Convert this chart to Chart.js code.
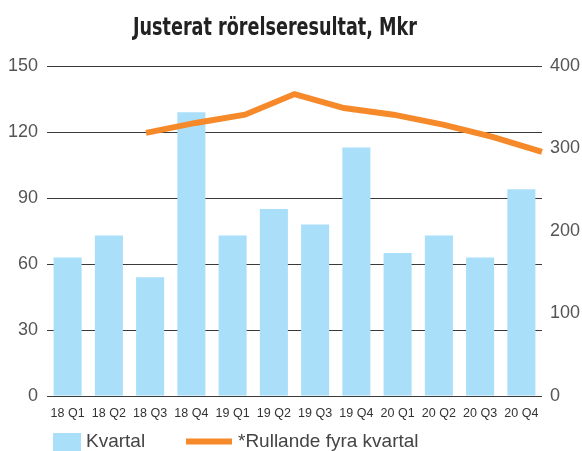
<!DOCTYPE html>
<html>
<head>
<meta charset="utf-8">
<script src="https://cdn.jsdelivr.net/npm/chart.js@4.4.1/dist/chart.umd.min.js"></script>
<style>
  html, body { margin: 0; padding: 0; background: #fff; }
  #wrap { width: 582px; height: 451px; }
</style>
</head>
<body>
<div id="wrap"><canvas id="myChart" width="582" height="451"></canvas></div>
<script>
// data
const quarters = ['18 Q1', '18 Q2', '18 Q3', '18 Q4', '19 Q1', '19 Q2', '19 Q3', '19 Q4', '20 Q1', '20 Q2', '20 Q3', '20 Q4'];
const kvartal = [63, 73, 54, 129, 73, 85, 78, 113, 65, 73, 63, 94];
// rolling line sits on its own evenly spaced grid (11 steps across the plot)
const rullandeSteg = ['0', '1', '2', '3', '4', '5', '6', '7', '8', '9', '10'];
const rullande = [null, null, 319, 331, 341, 366, 349, 341, 329, 314, 296];
const leftTicks = [0, 30, 60, 90, 120, 150];
const rightTicks = [0, 100, 200, 300, 400];

const blue = '#aadff9';
const orange = '#f68a2b';

// title + legend drawn by hand so they land where the original has them
const decor = {
  id: 'decor',
  afterDraw(chart) {
    const c = chart.ctx;
    const title = 'Justerat rörelseresultat, Mkr';
    c.save();
    c.fillStyle = '#222';
    c.font = 'bold 24px "DejaVu Sans Condensed", "DejaVu Sans"';
    c.textAlign = 'center';
    c.textBaseline = 'alphabetic';
    // original font is narrower, squeeze to its width (~284px)
    let w = c.measureText(title).width;
    c.translate(275, 35);
    c.scale(284 / w, 1);
    c.fillText(title, 0, 0);
    c.restore();

    // legend
    c.save();
    c.font = '19px "Liberation Sans", Arial';
    c.textAlign = 'left';
    c.textBaseline = 'middle';
    c.fillStyle = blue;
    c.fillRect(53, 433, 28, 18);
    c.fillStyle = '#444';
    c.fillText(chart.data.datasets[0].label, 86, 442);

    c.strokeStyle = orange;
    c.lineWidth = 6;
    c.beginPath();
    c.moveTo(186, 441.5);
    c.lineTo(232, 441.5);
    c.stroke();
    c.fillStyle = '#444';
    c.fillText(chart.data.datasets[1].label, 238, 442);
    c.restore();
  }
};

let ctx = document.getElementById('myChart').getContext('2d');
let myChart = new Chart(ctx, {
  type: 'bar',
  data: {
    labels: quarters,
    datasets: [{
      label: 'Kvartal',
      data: kvartal,
      backgroundColor: blue,
      barPercentage: 0.68,
      categoryPercentage: 1,
      grouped: false,
      yAxisID: 'y',
      xAxisID: 'x',
      order: 2
    }, {
      type: 'line',
      label: '*Rullande fyra kvartal',
      data: rullande,
      borderColor: orange,
      backgroundColor: orange,
      borderWidth: 6,
      pointRadius: 0,
      tension: 0,
      spanGaps: false,
      yAxisID: 'y1',
      xAxisID: 'xl',
      order: 1
    }]
  },
  options: {
    responsive: false,
    animation: false,
    layout: { padding: { top: 66, left: 0, right: 0, bottom: 0 } },
    plugins: {
      legend: { display: false },
      title: { display: false },
      tooltip: { enabled: false }
    },
    scales: {
      x: {
        type: 'category',
        grid: { display: false, drawTicks: false },
        border: { display: false },
        ticks: {
          color: '#333',
          font: { family: '"Liberation Sans", Arial', size: 12.5 },
          padding: 10,
          maxRotation: 0,
          autoSkip: false
        },
        afterFit(scale) { scale.height = 55; }
      },
      xl: {
        type: 'category',
        labels: rullandeSteg,
        offset: false,
        display: false
      },
      y: {
        position: 'left',
        min: 0,
        max: 150,
        afterBuildTicks(scale) { scale.ticks = leftTicks.map(v => ({ value: v })); },
        grid: { color: '#3a3a3a', lineWidth: 1, drawTicks: false },
        border: { display: false },
        ticks: {
          color: '#555',
          font: { family: '"Liberation Sans", Arial', size: 18 },
          padding: 9
        },
        afterFit(scale) { scale.width = 47; }
      },
      y1: {
        position: 'right',
        min: 0,
        max: 400,
        afterBuildTicks(scale) { scale.ticks = rightTicks.map(v => ({ value: v })); },
        grid: { drawOnChartArea: false, drawTicks: false },
        border: { display: false },
        ticks: {
          color: '#555',
          font: { family: '"Liberation Sans", Arial', size: 18 },
          padding: 8
        },
        afterFit(scale) { scale.width = 40; }
      }
    }
  },
  plugins: [decor]
});
</script>
</body>
</html>
